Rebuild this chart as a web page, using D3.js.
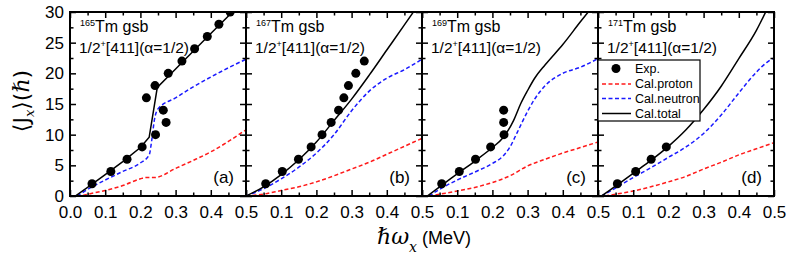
<!DOCTYPE html>
<html>
<head>
<meta charset="utf-8">
<script src="https://cdn.jsdelivr.net/npm/d3@7"></script>
<style>
  body { margin: 0; background: #fff; }
  text { font-family: "Liberation Sans", Arial, sans-serif; fill: #000; }
</style>
</head>
<body>
<div id="chart"></div>
<script>
// tick values
const xMajor = [0, 0.1, 0.2, 0.3, 0.4, 0.5];
const xMinor = [0.05, 0.15, 0.25, 0.35, 0.45];
const yMajor = [0, 5, 10, 15, 20, 25, 30];
const yMinor = [2.5, 7.5, 12.5, 17.5, 22.5, 27.5];

// panel (a) 165Tm
const expA = [[0.0625,2],[0.116,4],[0.162,6],[0.205,8],[0.217,16],[0.2415,18],[0.243,10],[0.265,14],[0.273,12],[0.279,20],[0.318,22],[0.354,24],[0.39,26],[0.423,28],[0.455,30]];
const protonA = [[0,0],[0.03,0.05],[0.06,0.4],[0.1,0.9],[0.15,1.7],[0.2,2.8],[0.215,3.0],[0.24,3.0],[0.3,4.5],[0.35,5.8],[0.4,7.2],[0.45,8.9],[0.5,10.8]];
const neutronA = [[0.02,0],[0.06,1.4],[0.1,2.6],[0.15,4.0],[0.2,5.4],[0.225,6.7],[0.232,9.0],[0.24,12.5],[0.25,14.2],[0.3,16.0],[0.35,17.8],[0.4,19.4],[0.45,20.9],[0.5,22.3]];
const totalA = [[0.015,0],[0.06,1.8],[0.1,3.5],[0.15,5.6],[0.2,7.9],[0.225,9.6],[0.248,17.7],[0.3,20.7],[0.35,23.6],[0.4,26.5],[0.465,30.2]];

// panel (b) 167Tm
const expB = [[0.056,2],[0.103,4],[0.149,6],[0.185,8],[0.216,10],[0.242,12],[0.263,14],[0.278,16],[0.291,18],[0.312,20],[0.336,22]];
const protonB = [[0,0],[0.05,0.3],[0.1,0.9],[0.15,1.5],[0.2,2.3],[0.25,3.3],[0.3,4.4],[0.35,5.5],[0.4,6.8],[0.45,8.1],[0.5,9.4]];
const neutronB = [[0,0],[0.05,1.2],[0.1,2.8],[0.15,4.7],[0.2,7.0],[0.25,10.0],[0.3,13.9],[0.35,17.1],[0.4,19.2],[0.45,20.6],[0.5,22.3]];
const totalB = [[0,0],[0.05,1.5],[0.1,3.5],[0.15,5.9],[0.2,8.8],[0.25,12.3],[0.3,15.8],[0.35,19.7],[0.4,23.8],[0.45,27.9],[0.478,30.2]];

// panel (c) 169Tm
const expC = [[0.056,2],[0.106,4],[0.152,6],[0.195,8],[0.233,10],[0.232,12],[0.232,14]];
const protonC = [[0.02,0],[0.05,0.3],[0.1,0.8],[0.15,1.4],[0.2,2.2],[0.25,3.3],[0.3,4.9],[0.35,6.0],[0.4,7.0],[0.45,7.9],[0.5,8.8]];
const neutronC = [[0.02,0],[0.05,1.1],[0.1,2.6],[0.15,3.9],[0.2,5.3],[0.23,6.5],[0.25,8.0],[0.27,10.3],[0.3,13.8],[0.32,15.8],[0.35,18.0],[0.4,20.0],[0.45,21.0],[0.5,22.4]];
const totalC = [[0.015,0],[0.05,1.5],[0.1,3.6],[0.15,5.7],[0.2,7.9],[0.23,9.5],[0.26,12.3],[0.28,15.0],[0.3,17.2],[0.32,19.2],[0.35,21.4],[0.4,24.7],[0.45,28.4],[0.475,30.2]];

// panel (d) 171Tm
const expD = [[0.055,2],[0.107,4],[0.151,6],[0.194,8]];
const protonD = [[0.02,0],[0.05,0.3],[0.1,0.8],[0.15,1.5],[0.2,2.3],[0.25,3.2],[0.3,4.4],[0.35,5.5],[0.4,6.7],[0.45,7.7],[0.5,8.7]];
const neutronD = [[0.01,0],[0.05,1.3],[0.1,3.0],[0.15,4.6],[0.2,6.3],[0.25,8.0],[0.3,10.2],[0.35,13.2],[0.4,16.8],[0.45,20.2],[0.48,21.8],[0.5,22.5]];
const totalD = [[0.01,0],[0.05,1.6],[0.1,3.7],[0.15,5.8],[0.2,8.1],[0.25,10.8],[0.3,14.1],[0.35,17.9],[0.4,22.4],[0.45,27.0],[0.478,30.2]];

const panels = [
  { nuc: "165", tag: "(a)", exp: expA, proton: protonA, neutron: neutronA, total: totalA, sharp: true },
  { nuc: "167", tag: "(b)", exp: expB, proton: protonB, neutron: neutronB, total: totalB },
  { nuc: "169", tag: "(c)", exp: expC, proton: protonC, neutron: neutronC, total: totalC },
  { nuc: "171", tag: "(d)", exp: expD, proton: protonD, neutron: neutronD, total: totalD }
];

const W = 789, H = 259;
const padL = 70, padT = 12, padB = 196, pw = 176;

const svg = d3.select("#chart")
  .append("svg")
    .attr("width", W)
    .attr("height", H);

svg.append("rect").attr("width", W).attr("height", H).attr("fill", "#fff");

const y = d3.scaleLinear().domain([0, 30]).range([padB, padT]);

panels.forEach((p, i) => {
  const x0 = padL + i * pw;
  const x = d3.scaleLinear().domain([0, 0.5]).range([x0, x0 + pw]);
  const g = svg.append("g");

  const clipId = "clip" + i;
  svg.append("clipPath").attr("id", clipId)
    .append("rect").attr("x", x0).attr("y", padT).attr("width", pw).attr("height", padB - padT);

  const plot = g.append("g").attr("clip-path", `url(#${clipId})`);
  const line = d3.line().x(d => x(d[0])).y(d => y(d[1])).curve(d3.curveMonotoneX);
  // (a) total has a sharp backbend, so keep its corners
  const totalLine = p.sharp ? d3.line().x(d => x(d[0])).y(d => y(d[1])) : line;

  plot.append("path").datum(p.proton)
    .attr("d", line).attr("fill", "none")
    .attr("stroke", "#ff1a1a").attr("stroke-width", 1.5).attr("stroke-dasharray", "4,2.5");
  plot.append("path").datum(p.neutron)
    .attr("d", line).attr("fill", "none")
    .attr("stroke", "#1a1aff").attr("stroke-width", 1.5).attr("stroke-dasharray", "4,2.5");
  plot.append("path").datum(p.total)
    .attr("d", totalLine).attr("fill", "none")
    .attr("stroke", "#000").attr("stroke-width", 1.5);

  plot.selectAll("circle")
    .data(p.exp)
    .enter()
    .append("circle")
      .attr("cx", d => x(d[0]))
      .attr("cy", d => y(d[1]))
      .attr("r", 4.5)
      .attr("fill", "#000");

  // axes, ticks pointing inward
  const bx = g.append("g").attr("transform", `translate(0,${padB})`)
    .call(d3.axisBottom(x).tickValues(xMajor).tickSize(-6).tickPadding(10)
      .tickFormat(d => (i > 0 && d === 0) ? "" : d3.format(".1f")(d)));
  g.append("g").attr("transform", `translate(0,${padB})`)
    .call(d3.axisBottom(x).tickValues(xMinor).tickSize(-3.5).tickFormat(""));
  g.append("g").attr("transform", `translate(0,${padT})`)
    .call(d3.axisTop(x).tickValues(xMajor).tickSize(-6).tickFormat(""));
  g.append("g").attr("transform", `translate(0,${padT})`)
    .call(d3.axisTop(x).tickValues(xMinor).tickSize(-3.5).tickFormat(""));

  const ly = g.append("g").attr("transform", `translate(${x0},0)`)
    .call(d3.axisLeft(y).tickValues(yMajor).tickSize(-6).tickPadding(6)
      .tickFormat(i === 0 ? d3.format("d") : ""));
  g.append("g").attr("transform", `translate(${x0},0)`)
    .call(d3.axisLeft(y).tickValues(yMinor).tickSize(-3.5).tickFormat(""));
  g.append("g").attr("transform", `translate(${x0 + pw},0)`)
    .call(d3.axisRight(y).tickValues(yMajor).tickSize(-6).tickFormat(""));
  g.append("g").attr("transform", `translate(${x0 + pw},0)`)
    .call(d3.axisRight(y).tickValues(yMinor).tickSize(-3.5).tickFormat(""));

  g.selectAll(".domain").remove();
  g.selectAll(".tick line").attr("stroke", "#000").attr("stroke-width", 1.5);
  g.selectAll(".tick text").attr("fill", "#000");
  bx.attr("font-family", null).attr("font-size", null);
  ly.attr("font-family", null).attr("font-size", null);
  bx.selectAll("text").style("font-size", "17px");
  ly.selectAll("text").style("font-size", "17px");

  g.append("rect")
    .attr("x", x0).attr("y", padT).attr("width", pw).attr("height", padB - padT)
    .attr("fill", "none").attr("stroke", "#000").attr("stroke-width", 2);

  // labels
  const t1 = g.append("text").attr("x", x0 + 10).attr("y", 32).style("font-size", "16px");
  t1.append("tspan").text(p.nuc).style("font-size", "9px").attr("dy", -6);
  t1.append("tspan").text("Tm gsb").attr("dy", 6);

  const t2 = g.append("text").attr("x", x0 + 9).attr("y", 53).style("font-size", "15.5px");
  t2.append("tspan").text("1/2");
  t2.append("tspan").text("+").style("font-size", "9px").attr("dy", -6);
  t2.append("tspan").text("[411](\u03B1=1/2)").attr("dy", 6);

  g.append("text").attr("x", x0 + pw - 12).attr("y", 183)
    .attr("text-anchor", "end").style("font-size", "17px").text(p.tag);

  if (i === 3) {
    const lg = g.append("g").attr("transform", `translate(${x0},60)`);
    lg.append("rect").attr("width", 102).attr("height", 61)
      .attr("fill", "#fff").attr("stroke", "#000").attr("stroke-width", 1.2);
    const rows = [
      { label: "Exp.", type: "dot" },
      { label: "Cal.proton", color: "#ff1a1a", dash: "4,2.5" },
      { label: "Cal.neutron", color: "#1a1aff", dash: "4,2.5" },
      { label: "Cal.total", color: "#000", dash: null }
    ];
    const ry = [8.5, 24, 38.5, 53.5];
    rows.forEach((r, k) => {
      if (r.type === "dot") {
        lg.append("circle").attr("cx", 18).attr("cy", ry[k]).attr("r", 4.5).attr("fill", "#000");
      } else {
        lg.append("line").attr("x1", 4).attr("x2", 33).attr("y1", ry[k]).attr("y2", ry[k])
          .attr("stroke", r.color).attr("stroke-width", 1.5)
          .attr("stroke-dasharray", r.dash);
      }
      lg.append("text").attr("x", 37).attr("y", ry[k]).attr("dy", "0.35em")
        .style("font-size", "12.5px").text(r.label);
    });
  }
});

// y axis title
const yt = svg.append("text")
  .attr("transform", "translate(29,101) rotate(-90)")
  .attr("text-anchor", "middle")
  .style("font-size", "22px");
yt.append("tspan").text("\u27E8J").style("font-family", "DejaVu Sans");
yt.append("tspan").text("x").style("font-size", "13px").style("font-style", "italic")
  .style("font-family", "DejaVu Serif").attr("dy", 5);
yt.append("tspan").text("\u27E9(").style("font-family", "DejaVu Sans").attr("dy", -5);
yt.append("tspan").text("\u210F").style("font-family", "DejaVu Serif").style("font-style", "italic");
yt.append("tspan").text(")").style("font-family", "DejaVu Sans");

// x axis title
const xt = svg.append("text").attr("x", 377).attr("y", 244);
xt.append("tspan").text("\u210F\u03C9").style("font-family", "DejaVu Serif")
  .style("font-style", "italic").style("font-size", "22px");
xt.append("tspan").text("x").style("font-family", "DejaVu Serif")
  .style("font-style", "italic").style("font-size", "14px").attr("dy", 8);
xt.append("tspan").text(" (MeV)").style("font-size", "18px").attr("dy", -8);
</script>
</body>
</html>
